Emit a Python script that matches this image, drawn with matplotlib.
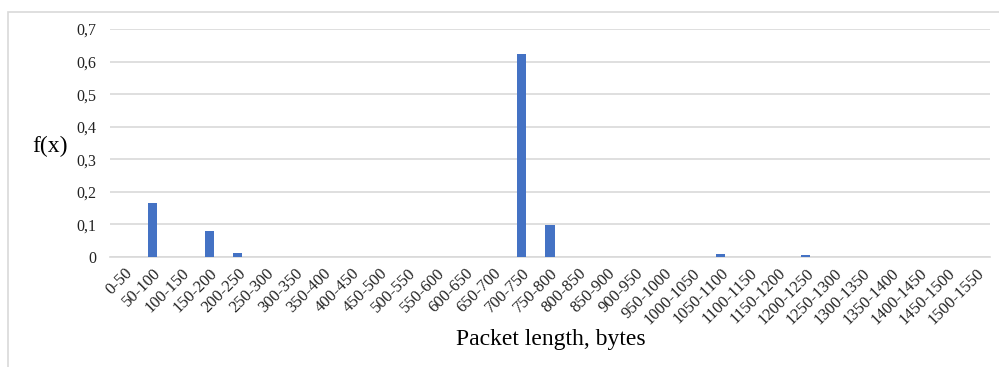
import matplotlib
matplotlib.use("Agg")
import matplotlib.pyplot as plt
from matplotlib.patches import Rectangle
import numpy as np

categories = [f"{a}-{a+50}" for a in range(0, 1550, 50)]
values = [0, 0.165, 0, 0.080, 0.012, 0, 0, 0, 0, 0, 0, 0, 0, 0, 0.624, 0.097,
          0, 0, 0, 0, 0, 0.008, 0, 0, 0.007, 0, 0, 0, 0, 0, 0]
yticks = [0, 0.1, 0.2, 0.3, 0.4, 0.5, 0.6, 0.7]
ytick_labels = ["0", "0,1", "0,2", "0,3", "0,4", "0,5", "0,6", "0,7"]

plt.rcParams['font.family'] = ['Liberation Serif', 'DejaVu Serif']

W, H = 999, 367
fig = plt.figure(figsize=(W/100, H/100), dpi=100)
ax = fig.add_axes([110/W, 1-257/H, 880/W, (257-29)/H])

x = np.arange(len(categories))
ax.bar(x, values, width=0.32, color="#4472C4", zorder=3)
ax.set_xlim(-0.5, len(categories)-0.5)
ax.set_ylim(0, 0.7)
ax.set_yticks(yticks)
ax.set_yticklabels(ytick_labels, fontsize=11.5, color="#222222")
ax.set_xticks(x)
ax.set_xticklabels(categories, rotation=45, ha="right", rotation_mode="anchor",
                   fontsize=12, color="#222222")
ax.tick_params(axis="y", length=0, pad=10)
ax.tick_params(axis="x", length=0, pad=6)
ax.grid(axis="y", color="#D9D9D9", linewidth=1.2, zorder=0)
for s in ["top", "right", "left"]:
    ax.spines[s].set_visible(False)
ax.spines["bottom"].set_color("#D9D9D9")
ax.spines["bottom"].set_linewidth(1.2)

fig.text(50/W, 1-146/H, "f(x)", fontsize=17, ha="center", va="center")
fig.text(551/W, 1-340/H, "Packet length, bytes", fontsize=17, ha="center", va="center")

fig.patches.append(Rectangle((7.5/W, -0.01), 1.1, 1-11.5/H+0.01, transform=fig.transFigure,
                             fill=False, edgecolor="#D9D9D9", linewidth=1.2))

fig.savefig("out.png", dpi=100)
